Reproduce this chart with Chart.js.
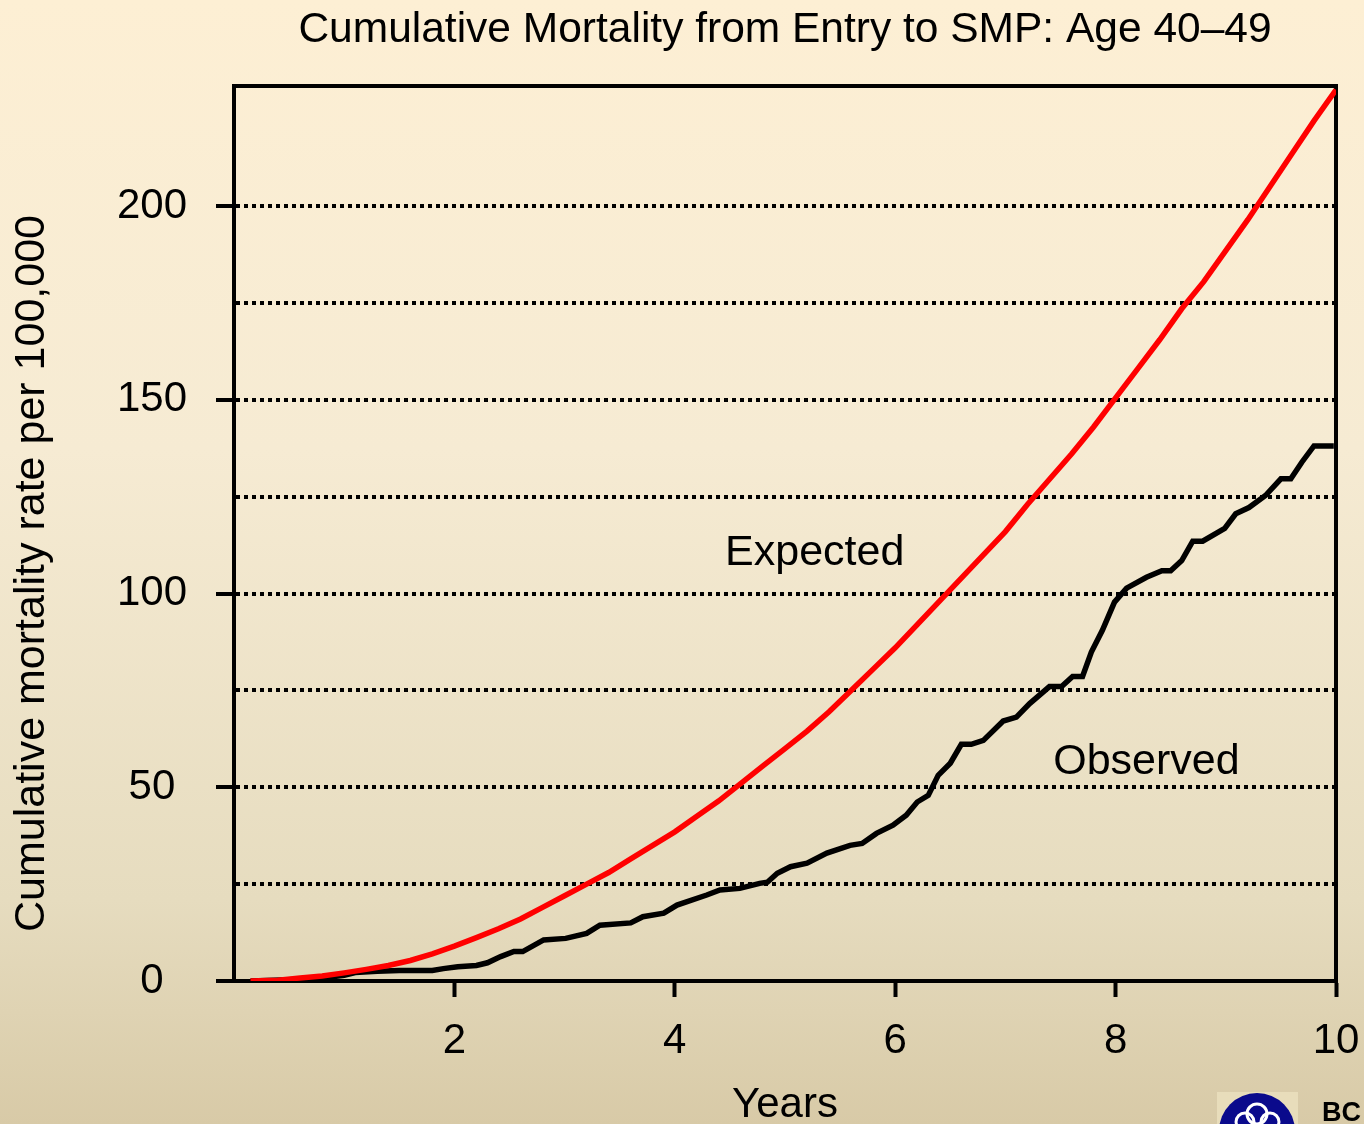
<!DOCTYPE html>
<html>
<head>
<meta charset="utf-8">
<script src="https://cdn.jsdelivr.net/npm/chart.js@4.4.1/dist/chart.umd.min.js"></script>
<style>
  html, body { margin: 0; padding: 0; }
  body {
    width: 1364px; height: 1124px; overflow: hidden; position: relative;
    background: linear-gradient(to bottom, #fdefd4 0%, #f6ebd3 40%, #e6dcbf 80%, #d8caa7 100%);
    font-family: "Liberation Sans", Arial, sans-serif;
  }
  #chart { position: absolute; left: 0; top: 0; }
  .logo { position: absolute; left: 1217px; top: 1092px; width: 81px; height: 40px; background: #e8ddbb; overflow: hidden; }
  .bc { position: absolute; left: 1322px; top: 1097px; font-weight: bold; font-size: 27px; color: #000; }
</style>
</head>
<body>
<canvas id="chart" width="1364" height="1124"></canvas>
<div class="logo">
  <svg width="81" height="40" viewBox="0 0 81 40">
    <circle cx="40" cy="39" r="38" fill="#0a0a8c"/>
    <g fill="none" stroke="#fff" stroke-width="3">
      <circle cx="28" cy="30" r="9"/>
      <circle cx="40" cy="22" r="10"/>
      <circle cx="53" cy="30" r="9"/>
    </g>
  </svg>
</div>
<div class="bc">BC</div>
<script>
// data
const expYears = [0.15, 0.4, 0.6, 0.8, 1.0, 1.2, 1.4, 1.6, 1.8, 2.0, 2.2, 2.4, 2.6, 2.8, 3.0, 3.2, 3.4, 3.6, 3.8, 4.0,
  4.2, 4.4, 4.6, 4.8, 5.0, 5.2, 5.4, 5.6, 5.8, 6.0, 6.2, 6.4, 6.6, 6.8, 7.0, 7.2, 7.4, 7.6, 7.8, 8.0,
  8.2, 8.4, 8.6, 8.8, 9.0, 9.2, 9.4, 9.6, 9.8, 10.0];
const expRate = [0, 0.2, 0.8, 1.3, 2.1, 3.0, 4.0, 5.3, 7.0, 9.0, 11.2, 13.5, 16, 19, 22, 25, 28, 31.5, 35, 38.5,
  42.5, 46.5, 51, 55.5, 60, 64.5, 69.5, 75, 80.5, 86, 92, 98, 104, 110, 116, 123, 129.5, 136, 143, 150.5,
  158, 165.5, 173.5, 180.5, 188.5, 196.5, 205, 213.5, 222, 230];

const obsYears = [0.15, 0.5, 0.8, 1.0, 1.1, 1.3, 1.5, 1.8, 1.9, 2.03, 2.2, 2.3, 2.42, 2.54, 2.62, 2.81, 3.01, 3.2, 3.32, 3.6,
  3.71, 3.9, 4.02, 4.29, 4.41, 4.59, 4.77, 4.84, 4.93, 5.05, 5.2, 5.38, 5.59, 5.7, 5.83, 5.98, 6.1, 6.2, 6.3, 6.39,
  6.5, 6.6, 6.69, 6.8, 6.98, 7.1, 7.22, 7.4, 7.51, 7.61, 7.7, 7.78, 7.88, 7.99, 8.1, 8.28, 8.42, 8.5, 8.6, 8.7,
  8.79, 8.99, 9.09, 9.21, 9.36, 9.5, 9.59, 9.69, 9.8, 9.98];
const obsRate = [0, 0.3, 0.8, 1.5, 2.2, 2.5, 2.7, 2.7, 3.2, 3.7, 4.0, 4.7, 6.3, 7.6, 7.6, 10.6, 11.0, 12.3, 14.4, 15.0,
  16.6, 17.5, 19.6, 22.2, 23.5, 23.9, 25.2, 25.5, 27.8, 29.5, 30.4, 33, 35, 35.5, 38.1, 40.2, 42.8, 46.2, 47.9, 53.1,
  56.2, 61.1, 61.1, 62.1, 67.1, 68.1, 71.6, 76, 76, 78.6, 78.6, 84.9, 90.5, 97.8, 101.4, 104.2, 105.9, 105.9, 108.5, 113.5,
  113.5, 116.8, 120.6, 122.2, 125.3, 129.6, 129.6, 133.9, 138.1, 138.1];

const xTicks = [0, 2, 4, 6, 8, 10];
const yLabelTicks = [0, 50, 100, 150, 200];
const yGridStep = 25;
const yMax = 231;

// text labels placed on the plot, in data units
const seriesLabels = [
  { text: 'Expected', x: 5.27, y: 110.5 },
  { text: 'Observed', x: 8.28, y: 56.5 }
];
const yTitle = 'Cumulative mortality rate per 100,000';

const FONT = '"Liberation Sans", Arial, sans-serif';
Chart.defaults.font.family = FONT;
Chart.defaults.color = '#000';

const toPoints = (xs, ys) => xs.map((x, i) => ({ x: x, y: ys[i] }));

// box round the plot + text labels
const extras = {
  id: 'extras',
  beforeDatasetsDraw(chart) {
    const { ctx, chartArea: a } = chart;
    ctx.save();
    ctx.strokeStyle = '#000';
    ctx.lineWidth = 4;
    ctx.strokeRect(a.left, a.top, a.right - a.left, a.bottom - a.top);
    ctx.restore();
  },
  afterDatasetsDraw(chart) {
    const { ctx, chartArea: a, scales } = chart;
    ctx.save();
    ctx.fillStyle = '#000';
    ctx.font = '43px ' + FONT;
    ctx.textAlign = 'center';
    ctx.textBaseline = 'middle';
    seriesLabels.forEach(l => {
      ctx.fillText(l.text, scales.x.getPixelForValue(l.x), scales.y.getPixelForValue(l.y));
    });
    ctx.translate(32, (a.top + a.bottom) / 2 + 40);
    ctx.rotate(-Math.PI / 2);
    ctx.fillText(yTitle, 0, 0);
    ctx.restore();
  }
};

new Chart(document.getElementById('chart'), {
  type: 'line',
  data: {
    datasets: [
      {
        label: 'Expected',
        data: toPoints(expYears, expRate),
        borderColor: '#ff0000',
        borderWidth: 5.5,
        pointRadius: 0,
        tension: 0
      },
      {
        label: 'Observed',
        data: toPoints(obsYears, obsRate),
        borderColor: '#000000',
        borderWidth: 5.5,
        pointRadius: 0,
        tension: 0
      }
    ]
  },
  options: {
    responsive: false,
    animation: false,
    layout: { padding: { left: 0, right: 28, top: 0, bottom: 0 } },
    plugins: {
      legend: { display: false },
      tooltip: { enabled: false },
      title: {
        display: true,
        fullSize: false,
        text: 'Cumulative Mortality from Entry to SMP: Age 40\u201349',
        color: '#000',
        font: { size: 42.5, weight: 'normal' },
        padding: { top: 5, bottom: 30 }
      }
    },
    scales: {
      x: {
        type: 'linear',
        min: 0,
        max: 10,
        afterFit: (s) => { s.height = 143; s.paddingLeft = 0; s.paddingRight = 0; },
        afterBuildTicks: (s) => { s.ticks = xTicks.map(v => ({ value: v })); },
        border: { display: true, color: '#000', width: 4 },
        grid: {
          color: 'transparent',
          drawTicks: true,
          tickLength: 16,
          tickWidth: 4,
          tickColor: (c) => (c.tick && c.tick.value === 0 ? 'transparent' : '#000')
        },
        ticks: {
          autoSkip: false,
          maxRotation: 0,
          padding: 19,
          font: { size: 42 },
          callback: (v) => (v === 0 ? '' : v)
        },
        title: {
          display: true,
          text: 'Years',
          font: { size: 42, lineHeight: 0.9 },
          padding: 0
        }
      },
      y: {
        min: 0,
        max: yMax,
        afterFit: (s) => { s.width = 234; s.paddingTop = 0; s.paddingBottom = 0; },
        afterBuildTicks: (s) => { s.ticks = s.ticks.filter(t => t.value <= yLabelTicks[yLabelTicks.length - 1]); },
        border: { display: true, color: '#000', width: 4, dash: [4, 4] },
        grid: {
          lineWidth: 4,
          color: (c) => (c.tick && c.tick.value === 0 ? 'transparent' : '#000'),
          tickLength: 18,
          tickWidth: 4,
          tickColor: (c) => (c.tick && yLabelTicks.includes(c.tick.value) ? '#000' : 'transparent')
        },
        ticks: {
          stepSize: yGridStep,
          crossAlign: 'center',
          padding: 29,
          font: { size: 42 },
          callback: (v) => (yLabelTicks.includes(v) ? v : '')
        }
      }
    }
  },
  plugins: [extras]
});
</script>
</body>
</html>
